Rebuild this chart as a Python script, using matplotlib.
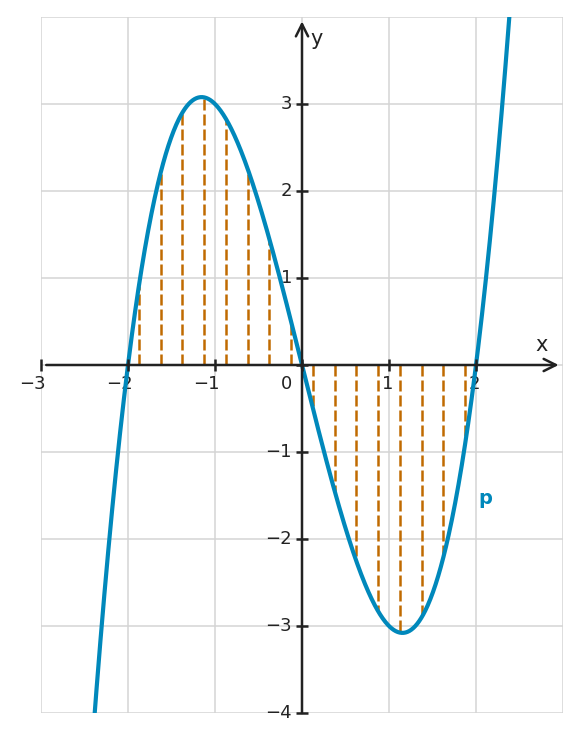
import numpy as np
import matplotlib
matplotlib.use("Agg")
import matplotlib.pyplot as plt
from matplotlib.transforms import offset_copy

# Data
poly_coeffs = [1, 0, -4, 0]          # p(x) = x^3 - 4x
sample_x = [-1.875, -1.625, -1.375, -1.125, -0.875, -0.625, -0.375, -0.125,
            0.125, 0.375, 0.625, 0.875, 1.125, 1.375, 1.625, 1.875]
x_tick_vals = [-3, -2, -1, 1, 2]
x_tick_labels = ["\u22123", "\u22122", "\u22121", "1", "2"]
y_tick_vals = [-4, -3, -2, -1, 1, 2, 3]
y_tick_labels = ["\u22124", "\u22123", "\u22122", "\u22121", "1", "2", "3"]
curve_label = "p"

BLUE = "#0088bb"
ORANGE = "#c06a00"
DARK = "#222222"
GRID = "#d4d4d4"

fig = plt.figure(figsize=(5.81, 7.41), dpi=100)
ax = fig.add_axes([41/581, 28/741, 522/581, 696/741])
ax.set_xlim(-3, 3)
ax.set_ylim(-4, 4)
for s in ax.spines.values():
    s.set_visible(False)
ax.set_xticks(range(-3, 4))
ax.set_yticks(range(-4, 5))
ax.tick_params(length=0, labelbottom=False, labelleft=False)
ax.grid(True, color=GRID, lw=1.1)
ax.set_axisbelow(True)

p = np.poly1d(poly_coeffs)
xs = np.linspace(-3, 3, 800)
ax.plot(xs, p(xs), color=BLUE, lw=3, zorder=5, solid_capstyle='butt')

for xv in sample_x:
    ax.plot([xv, xv], [0, p(xv)], color=ORANGE, lw=1.8,
            linestyle=(0, (4.4, 1.6)), zorder=4)

# axes with arrows
ax.annotate('', xy=(2.95, 0), xytext=(-2.94, 0),
            arrowprops=dict(arrowstyle='->', lw=1.8, color=DARK,
                            mutation_scale=22, shrinkA=0, shrinkB=0), zorder=6)
ax.annotate('', xy=(0, 3.95), xytext=(0, -4),
            arrowprops=dict(arrowstyle='->', lw=1.8, color=DARK,
                            mutation_scale=22, shrinkA=0, shrinkB=0), zorder=6)

# ticks
ax.plot(range(-3, 3), [0]*6, linestyle='none', marker='|', markersize=9,
        mew=1.8, color=DARK, zorder=6, clip_on=False)
ax.plot([0]*8, range(-4, 4), linestyle='none', marker='_', markersize=9,
        mew=1.8, color=DARK, zorder=6, clip_on=False)

fs = 13
# x tick labels: digit centred on tick, minus hanging left
for v, lab in zip(x_tick_vals, x_tick_labels):
    tr = offset_copy(ax.transData, fig=fig, x=4.3*72/100, y=-10*72/100, units='points')
    ax.text(v, 0, lab, transform=tr, ha='right', va='top', fontsize=fs, color=DARK)
for v, lab in zip(y_tick_vals, y_tick_labels):
    tr = offset_copy(ax.transData, fig=fig, x=-10*72/100, y=0, units='points')
    ax.text(0, v, lab, transform=tr, ha='right', va='center', fontsize=fs, color=DARK)
tr0 = offset_copy(ax.transData, fig=fig, x=-10*72/100, y=-10*72/100, units='points')
ax.text(0, 0, "0", transform=tr0, ha='right', va='top', fontsize=fs, color=DARK)

ax.text(2.75, 0.12, "x", ha='center', va='bottom', fontsize=15, color=DARK)
ax.text(0.1, 3.75, "y", ha='left', va='center', fontsize=15, color=DARK)
ax.text(2.11, -1.53, curve_label, ha='center', va='center', fontsize=14,
        fontweight='bold', color=BLUE)

fig.savefig("out.png", dpi=100)
